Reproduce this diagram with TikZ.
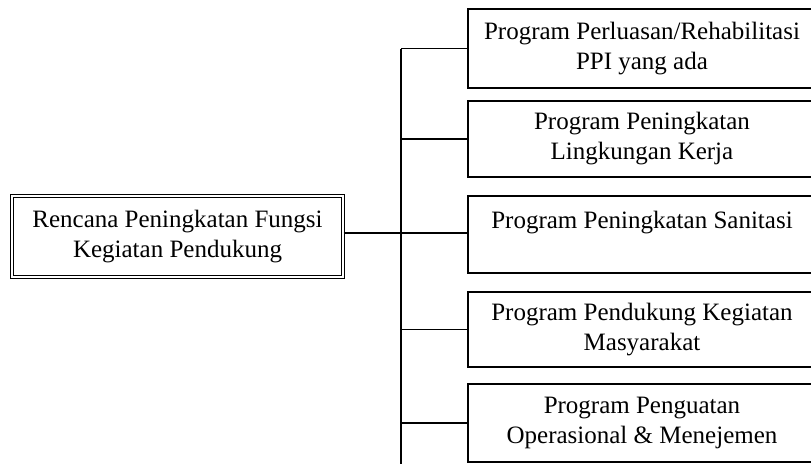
\documentclass[tikz,border=0pt]{standalone}
\usepackage{fontspec}
\setmainfont{Liberation Serif}
\begin{document}
\begin{tikzpicture}[
  x=1pt, y=-1pt,
  font=\fontsize{25}{30}\selectfont,
  prog/.style={rectangle, draw, line width=1.4pt, align=center, minimum width=348pt,
    minimum height=77pt, inner sep=0pt},
  main/.style={rectangle, draw, double, double distance=2.2pt, line width=1.1pt,
    align=center, minimum width=331pt, minimum height=81pt, inner sep=0pt,
    font=\fontsize{25}{30}\selectfont},
  ln/.style={line width=1.6pt}
]
\useasboundingbox (0,0) rectangle (811,464);
\node[main] (rpf) at (177.5,236.5) {Rencana Peningkatan Fungsi\\Kegiatan Pendukung};
\node[prog, minimum height=79pt] (pr1) at (642,48.5) {Program Perluasan/Rehabilitasi\\PPI yang ada};
\node[prog, minimum height=76pt] (pr2) at (642,139) {Program Peningkatan\\Lingkungan Kerja};
\node[prog] (pr3) at (642,234.5) {Program Peningkatan Sanitasi\\\mbox{}};
\node[prog, minimum height=75pt] (pr4) at (642,329.5) {Program Pendukung Kegiatan\\Masyarakat};
\node[prog, minimum height=78pt] (pr5) at (642,423) {Program Penguatan\\Operasional \& Menejemen};
\coordinate (trk) at (401,464);
\coordinate (jn) at (401,233);
\draw[ln] (pr1.west -| trk) -- (trk);
\draw[ln] (rpf.east |- jn) -- (pr3.west |- jn);
\foreach \p in {pr1,pr2,pr4,pr5}
  \draw[ln] (\p.west) -- (\p.west -| trk);
\end{tikzpicture}
\end{document}
